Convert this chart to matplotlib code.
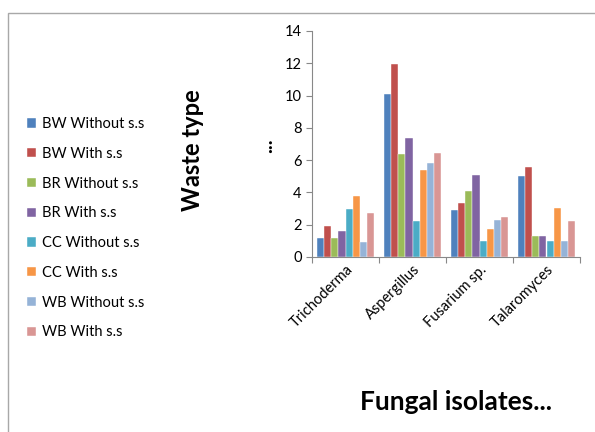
import numpy as np
import matplotlib.pyplot as plt
from matplotlib.patches import Rectangle

plt.rcParams['font.family'] = ['Lato', 'DejaVu Sans']

fungi = ['Trichoderma', 'Aspergillus', 'Fusarium sp.', 'Talaromyces']
series = ['BW Without s.s', 'BW With s.s', 'BR Without s.s', 'BR With s.s',
          'CC Without s.s', 'CC With s.s', 'WB Without s.s', 'WB With s.s']
colors = ['#4F81BD', '#C0504D', '#9BBB59', '#8064A2',
          '#4BACC6', '#F79646', '#95B3D7', '#D99694']

bw_without = [1.2, 10.1, 2.9, 5.0]
bw_with = [1.95, 11.95, 3.35, 5.55]
br_without = [1.2, 6.35, 4.1, 1.3]
br_with = [1.6, 7.35, 5.1, 1.3]
cc_without = [2.95, 2.2, 1.0, 1.0]
cc_with = [3.8, 5.4, 1.75, 3.05]
wb_without = [0.9, 5.85, 2.3, 1.0]
wb_with = [2.7, 6.45, 2.5, 2.2]
values = [bw_without, bw_with, br_without, br_with,
          cc_without, cc_with, wb_without, wb_with]

fig = plt.figure(figsize=(5.95, 4.32), dpi=100)
fig.patches.append(Rectangle((8/595, -0.1), 1.2, 1 - 13/432 + 0.1,
                             transform=fig.transFigure, fill=False,
                             edgecolor='#A8A8A8', linewidth=1.0))

ax = fig.add_axes([312/595, 1 - 257/432, 268/595, 226/432])
x = np.arange(len(fungi))
w = 0.105
handles = []
for i, (name, vals, c) in enumerate(zip(series, values, colors)):
    b = ax.bar(x + (i - 3.5) * w, vals, w, color=c, edgecolor='white',
               linewidth=0.3, label=name)
    handles.append(b)

ax.set_xlim(-0.5, 3.5)
ax.set_ylim(0, 14)
ax.set_yticks(range(0, 15, 2))
ax.set_xticks(np.arange(-0.5, 4, 1), minor=False)
ax.set_xticklabels([])
ax.set_xticks(x, minor=True)
ax.set_xticklabels(fungi, minor=True, rotation=45, ha='right',
                   rotation_mode='anchor', fontsize=10.5)
ax.tick_params(axis='x', which='minor', length=0, pad=4)
ax.tick_params(axis='x', which='major', length=4, color='#888888')
ax.tick_params(axis='y', length=4, color='#888888', labelsize=10.5)
for s in ['top', 'right']:
    ax.spines[s].set_visible(False)
for s in ['left', 'bottom']:
    ax.spines[s].set_color('#888888')

fig.legend(handles=handles, labels=series, loc='upper left',
           bbox_to_anchor=(14/595, 1 - 104/432), frameon=False,
           fontsize=10.5, handlelength=0.6, handleheight=0.6,
           handletextpad=0.4, labelspacing=1.08)

fig.text(193/595, 1 - 150/432, 'Waste type', rotation=90, fontsize=17,
         fontweight='bold', ha='center', va='center')
fig.text(266/595, 1 - 146/432, '...', rotation=90, fontsize=15,
         fontweight='bold', ha='center', va='center')
fig.text(456/595, 1 - 402/432, 'Fungal isolates...', fontsize=19,
         fontweight='bold', ha='center', va='center')

fig.savefig('out.png', dpi=100)
